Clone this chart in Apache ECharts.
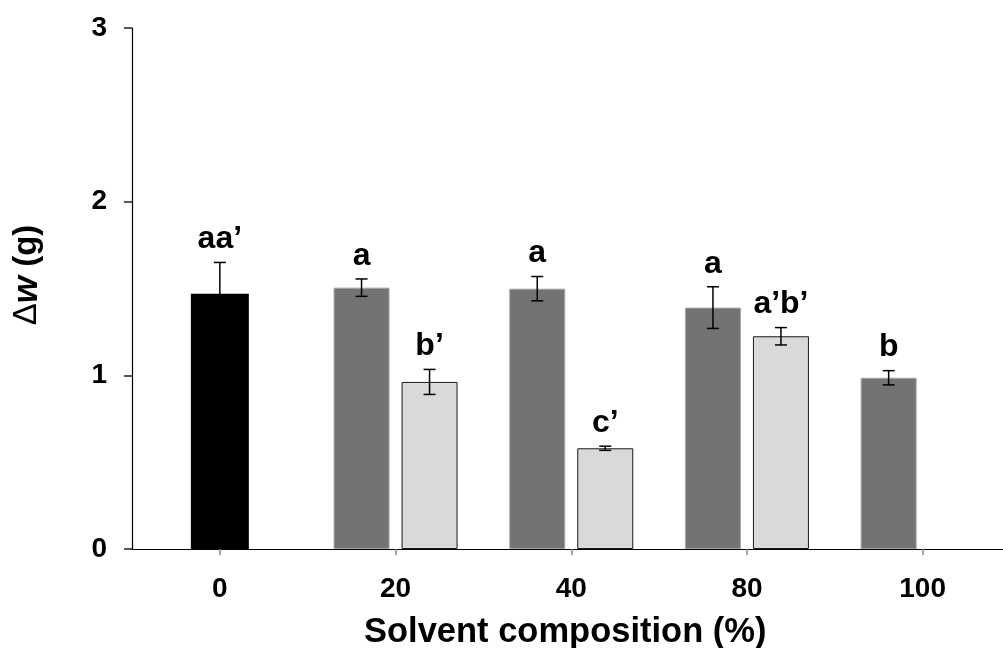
<!DOCTYPE html>
<html>
<head>
<meta charset="utf-8">
<script src="https://cdn.jsdelivr.net/npm/echarts@6/dist/echarts.min.js"></script>
<style>
html,body{margin:0;padding:0;background:#fff;}
#chart{width:1003px;height:648px;}
</style>
</head>
<body>
<div id="chart"></div>
<script>
// ---- data ----
const categories = ['0', '20', '40', '80', '100'];
const controlMean = [1.47, null, null, null, null];
const controlErr  = [0.18, null, null, null, null];
const controlLbl  = ['aa\u2019', null, null, null, null];
const darkMean = [null, 1.505, 1.499, 1.390, 0.986];
const darkErr  = [null, 0.050, 0.070, 0.120, 0.041];
const darkLbl  = [null, 'a', 'a', 'a', 'b'];
const lightMean = [null, 0.962, 0.580, 1.225, null];
const lightErr  = [null, 0.072, 0.012, 0.050, null];
const lightLbl  = [null, 'b\u2019', 'c\u2019', 'a\u2019b\u2019', null];
const yTicks = [0, 1, 2, 3];

const FONT = '"Liberation Sans", Arial, sans-serif';
const BAR_W = 56;
const BAR_GAP = 12;
const PAIR_OFF = (BAR_W + BAR_GAP) / 2;

function errorSeries(means, errs, labels, offset, xAxisIndex) {
  const items = [];
  means.forEach((m, i) => {
    if (m != null) items.push({ value: [i, m - errs[i], m + errs[i]], txt: labels[i] });
  });
  return {
    type: 'custom',
    xAxisIndex: xAxisIndex,
    yAxisIndex: 0,
    z: 5,
    silent: true,
    clip: false,
    data: items.map(d => d.value),
    renderItem: function (params, api) {
      const x = api.value(0);
      const pLo = api.coord([x, api.value(1)]);
      const pHi = api.coord([x, api.value(2)]);
      const cx = pLo[0] + offset;
      const cap = 6;
      const st = { stroke: '#000', lineWidth: 1.5 };
      return {
        type: 'group',
        children: [
          { type: 'line', shape: { x1: cx, y1: pLo[1], x2: cx, y2: pHi[1] }, style: st },
          { type: 'line', shape: { x1: cx - cap, y1: pLo[1], x2: cx + cap, y2: pLo[1] }, style: st },
          { type: 'line', shape: { x1: cx - cap, y1: pHi[1], x2: cx + cap, y2: pHi[1] }, style: st },
          { type: 'text', style: {
              text: items[params.dataIndex].txt, x: cx, y: pHi[1] - 7,
              align: 'center', verticalAlign: 'bottom',
              font: 'bold 32px ' + FONT, fill: '#000' } }
        ]
      };
    }
  };
}

const chart = echarts.init(document.getElementById('chart'), null, { renderer: 'canvas' });
chart.setOption({
  animation: false,
  backgroundColor: '#fff',
  grid: { left: 132, right: -7.5, top: 28, bottom: 99, outerBoundsMode: 'none', containLabel: false },
  xAxis: [
    {
      type: 'category', data: categories, gridIndex: 0,
      boundaryGap: true,
      axisLine: { show: true, lineStyle: { color: '#000', width: 1.2 } },
      axisTick: { show: true, alignWithLabel: true, inside: false, length: 6, lineStyle: { color: '#888', width: 1.5 } },
      axisLabel: { margin: 26, color: '#000', fontFamily: FONT, fontWeight: 'bold', fontSize: 28 },
      splitLine: { show: false },
      name: 'Solvent composition (%)',
      nameLocation: 'middle',
      nameGap: 66,
      nameTextStyle: { color: '#000', fontFamily: FONT, fontWeight: 'bold', fontSize: 34.5, padding: [0, 12, 0, 0] }
    },
    { type: 'category', data: categories, gridIndex: 0, show: false }
  ],
  yAxis: {
    type: 'value', min: 0, max: 3, interval: 1,
    axisLine: { show: true, lineStyle: { color: '#000', width: 1.2 } },
    axisTick: { show: true, inside: false, length: 8, lineStyle: { color: '#222', width: 1.5 } },
    axisLabel: { margin: 25, color: '#000', fontFamily: FONT, fontWeight: 'bold', fontSize: 28,
                 formatter: v => yTicks.includes(v) ? String(v) : '' },
    splitLine: { show: false }
  },
  graphic: [
    {
      type: 'text', x: 27, y: 275, rotation: Math.PI / 2,
      style: {
        text: '{d|\u0394}{w|w}{g| (g)}',
        align: 'center', verticalAlign: 'middle',
        rich: {
          d: { fontFamily: FONT, fontSize: 33, fontWeight: 'normal', fill: '#000' },
          w: { fontFamily: FONT, fontSize: 35, fontWeight: 'bold', fontStyle: 'italic', fill: '#000' },
          g: { fontFamily: FONT, fontSize: 33, fontWeight: 'bold', fill: '#000' }
        }
      }
    }
  ],
  series: [
    {
      type: 'bar', name: 'control', xAxisIndex: 0, yAxisIndex: 0,
      data: controlMean, barWidth: 58,
      itemStyle: { color: '#000' }
    },
    {
      type: 'bar', name: 'dark', xAxisIndex: 1, yAxisIndex: 0,
      data: darkMean, barWidth: BAR_W, barGap: (BAR_GAP / BAR_W * 100) + '%',
      itemStyle: { color: '#737373', borderColor: '#a6a6a6', borderWidth: 1 }
    },
    {
      type: 'bar', name: 'light', xAxisIndex: 1, yAxisIndex: 0,
      data: lightMean, barWidth: BAR_W, barGap: (BAR_GAP / BAR_W * 100) + '%',
      itemStyle: { color: '#d9d9d9', borderColor: '#1a1a1a', borderWidth: 1 }
    },
    errorSeries(controlMean, controlErr, controlLbl, 0, 0),
    errorSeries(darkMean, darkErr, darkLbl, -PAIR_OFF, 1),
    errorSeries(lightMean, lightErr, lightLbl, PAIR_OFF, 1)
  ]
});
</script>
</body>
</html>
